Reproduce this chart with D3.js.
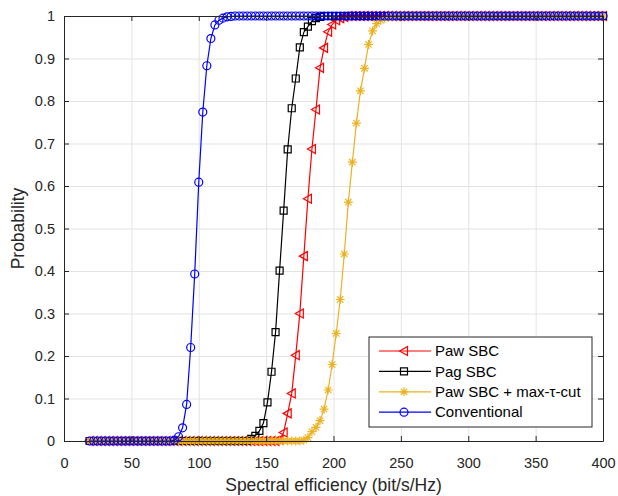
<!DOCTYPE html>
<html>
<head>
  <meta charset="utf-8">
  <script src="https://cdn.jsdelivr.net/npm/d3@7"></script>
  <style>
    body { margin: 0; background: #fff; }
    svg { font-family: "Liberation Sans", Arial, sans-serif; }
  </style>
</head>
<body>
<div id="chart"></div>
<script>
// sample grid (bit/s/Hz)
const xValues = [
  19,22,25,28,31,34,37,40,43,46,
  49,52,55,58,61,64,67,70,73,76,
  79,82,85,88,91,94,97,100,103,106,
  109,112,115,118,121,124,127,130,133,136,
  139,142,145,148,151,154,157,160,163,166,
  169,172,175,178,181,184,187,190,193,196,
  199,202,205,208,211,214,217,220,223,226,
  229,232,235,238,241,244,247,250,253,256,
  259,262,265,268,271,274,277,280,283,286,
  289,292,295,298,301,304,307,310,313,316,
  319,322,325,328,331,334,337,340,343,346,
  349,352,355,358,361,364,367,370,373,376,
  379,382,385,388,391,394,397,400
];

const pawSBC = [
  0,0,0,0,0,0,0,0,0,0,
  0,0,0,0,0,0,0,0,0,0,
  0,0,0,0,0,0,0,0,0,0,
  0,0,0,0,0,0,0,0,0,0,
  0,0,0,0,0,0,0,0.003,0.02,0.065,
  0.112,0.202,0.30,0.435,0.57,0.687,0.78,0.878,0.925,0.963,
  0.98,0.99,0.995,0.998,1,1,1,1,1,1,
  1,1,1,1,1,1,1,1,1,1,
  1,1,1,1,1,1,1,1,1,1,
  1,1,1,1,1,1,1,1,1,1,
  1,1,1,1,1,1,1,1,1,1,
  1,1,1,1,1,1,1,1,1,1,
  1,1,1,1,1,1,1,1
];

const pagSBC = [
  0,0,0,0,0,0,0,0,0,0,
  0,0,0,0,0,0,0,0,0,0,
  0,0,0,0,0,0,0,0,0,0,
  0,0,0,0,0,0,0,0,0,0,
  0.005,0.012,0.024,0.042,0.091,0.163,0.256,0.401,0.542,0.686,
  0.783,0.853,0.926,0.962,0.975,0.988,0.995,0.998,1,1,
  1,1,1,1,1,1,1,1,1,1,
  1,1,1,1,1,1,1,1,1,1,
  1,1,1,1,1,1,1,1,1,1,
  1,1,1,1,1,1,1,1,1,1,
  1,1,1,1,1,1,1,1,1,1,
  1,1,1,1,1,1,1,1,1,1,
  1,1,1,1,1,1,1,1
];

const pawSBCMaxCut = [
  0,0,0,0,0,0,0,0,0,0,
  0,0,0,0,0,0,0,0,0,0,
  0,0,0,0,0,0,0,0,0,0,
  0,0,0,0,0,0,0,0,0,0,
  0,0,0,0,0,0,0,0,0,0,
  0,0,0,0.002,0.008,0.022,0.032,0.048,0.075,0.12,
  0.18,0.253,0.333,0.44,0.562,0.656,0.748,0.824,0.877,0.933,
  0.965,0.982,0.99,0.995,0.998,0.999,1,1,1,1,
  1,1,1,1,1,1,1,1,1,1,
  1,1,1,1,1,1,1,1,1,1,
  1,1,1,1,1,1,1,1,1,1,
  1,1,1,1,1,1,1,1,1,1,
  1,1,1,1,1,1,1,1
];

const conventional = [
  0,0,0,0,0,0,0,0,0,0,
  0,0,0,0,0,0,0,0,0,0,
  0,0.002,0.01,0.031,0.086,0.22,0.393,0.609,0.774,0.883,
  0.947,0.979,0.99,0.995,0.998,0.999,1,1,1,1,
  1,1,1,1,1,1,1,1,1,1,
  1,1,1,1,1,1,1,1,1,1,
  1,1,1,1,1,1,1,1,1,1,
  1,1,1,1,1,1,1,1,1,1,
  1,1,1,1,1,1,1,1,1,1,
  1,1,1,1,1,1,1,1,1,1,
  1,1,1,1,1,1,1,1,1,1,
  1,1,1,1,1,1,1,1,1,1,
  1,1,1,1,1,1,1,1
];

const seriesNames = ['Paw SBC', 'Pag SBC', 'Paw SBC + max-\u03C4-cut', 'Conventional'];
const seriesColors = ['#ff0000', '#000000', '#edb120', '#0000ff'];
const seriesMarkers = ['triangleLeft', 'square', 'asterisk', 'circle'];
const seriesValues = [pawSBC, pagSBC, pawSBCMaxCut, conventional];

const xTicks = [0, 50, 100, 150, 200, 250, 300, 350, 400];
const yTicks = [0, 0.1, 0.2, 0.3, 0.4, 0.5, 0.6, 0.7, 0.8, 0.9, 1];
const yTickLabels = ['0', '0.1', '0.2', '0.3', '0.4', '0.5', '0.6', '0.7', '0.8', '0.9', '1'];

const W = 618, H = 496;
const pLeft = 64, pRight = 603, pTop = 16, pBottom = 441;

const x = d3.scaleLinear().domain([0, 400]).range([pLeft, pRight]);
const y = d3.scaleLinear().domain([0, 1]).range([pBottom, pTop]);

const svg = d3.select('#chart').append('svg')
  .attr('width', W)
  .attr('height', H);

svg.append('rect').attr('width', W).attr('height', H).attr('fill', '#fff');

// grid
svg.append('g')
  .attr('transform', `translate(0,${pBottom})`)
  .call(d3.axisBottom(x).tickValues(xTicks).tickSize(-(pBottom - pTop)).tickFormat(''))
  .call(g => g.select('.domain').remove())
  .selectAll('line').attr('stroke', '#e3e3e3');

svg.append('g')
  .attr('transform', `translate(${pLeft},0)`)
  .call(d3.axisLeft(y).tickValues(yTicks).tickSize(-(pRight - pLeft)).tickFormat(''))
  .call(g => g.select('.domain').remove())
  .selectAll('line').attr('stroke', '#e3e3e3');

// markers
function markerPath(type) {
  if (type === 'circle') return d3.symbol(d3.symbolCircle, 50)();
  if (type === 'square') return 'M-3.5,-3.5H3.5V3.5H-3.5Z';
  if (type === 'triangleLeft') return 'M-4.5,0L3.5,-4.5V4.5Z';
  return 'M-4.5,0H4.5M0,-4.5V4.5M-3.2,-3.2L3.2,3.2M-3.2,3.2L3.2,-3.2';
}

const line = d3.line()
  .x(d => x(d[0]))
  .y(d => y(d[1]));

const plot = svg.append('g');

seriesValues.forEach((vals, i) => {
  const pts = xValues.map((xv, j) => [xv, vals[j]]);
  const g = plot.append('g');
  g.append('path')
    .datum(pts)
    .attr('d', line)
    .attr('fill', 'none')
    .attr('stroke', seriesColors[i])
    .attr('stroke-width', 1.2);
  g.selectAll('path.mk')
    .data(pts)
    .enter()
    .append('path')
    .attr('class', 'mk')
    .attr('d', markerPath(seriesMarkers[i]))
    .attr('transform', d => `translate(${x(d[0])},${y(d[1])})`)
    .attr('fill', 'none')
    .attr('stroke', seriesColors[i])
    .attr('stroke-width', 1.2);
});

// axes
const axisColor = '#262626';
svg.append('g')
  .attr('class', 'axis')
  .attr('transform', `translate(0,${pBottom})`)
  .call(d3.axisBottom(x).tickValues(xTicks).tickSizeInner(-5).tickSizeOuter(0).tickPadding(17));
svg.append('g')
  .attr('class', 'axis')
  .attr('transform', `translate(${pLeft},0)`)
  .call(d3.axisLeft(y).tickValues(yTicks).tickSizeInner(-5).tickSizeOuter(0).tickPadding(9)
    .tickFormat((d, i) => yTickLabels[i]));
svg.append('g')
  .attr('class', 'axis')
  .attr('transform', `translate(0,${pTop})`)
  .call(d3.axisTop(x).tickValues(xTicks).tickSizeInner(-5).tickSizeOuter(0).tickFormat(''));
svg.append('g')
  .attr('class', 'axis')
  .attr('transform', `translate(${pRight},0)`)
  .call(d3.axisRight(y).tickValues(yTicks).tickSizeInner(-5).tickSizeOuter(0).tickFormat(''));

svg.selectAll('.axis .domain').attr('stroke', axisColor);
svg.selectAll('.axis .tick line').attr('stroke', axisColor);
svg.selectAll('.axis .tick text')
  .attr('fill', axisColor)
  .style('font-size', '14.5px')
  .style('font-family', '"Liberation Sans", Arial, sans-serif');

// axis labels
svg.append('text')
  .attr('x', (pLeft + pRight) / 2)
  .attr('y', 491)
  .attr('text-anchor', 'middle')
  .attr('fill', axisColor)
  .style('font-size', '17.5px')
  .text('Spectral efficiency (bit/s/Hz)');

svg.append('text')
  .attr('transform', `translate(24,${(pTop + pBottom) / 2}) rotate(-90)`)
  .attr('text-anchor', 'middle')
  .attr('fill', axisColor)
  .style('font-size', '17.5px')
  .text('Probability');

// legend
const legend = svg.append('g').attr('transform', 'translate(369,337)');
legend.append('rect')
  .attr('width', 223)
  .attr('height', 90)
  .attr('fill', '#fff')
  .attr('stroke', axisColor)
  .attr('stroke-width', 1);

seriesNames.forEach((name, i) => {
  const ly = 14 + i * 20.4;
  const row = legend.append('g').attr('transform', `translate(0,${ly})`);
  row.append('line')
    .attr('x1', 10).attr('x2', 62)
    .attr('stroke', seriesColors[i])
    .attr('stroke-width', 1.2);
  row.append('path')
    .attr('d', markerPath(seriesMarkers[i]))
    .attr('transform', 'translate(35,0)')
    .attr('fill', 'none')
    .attr('stroke', seriesColors[i])
    .attr('stroke-width', 1.2);
  row.append('text')
    .attr('x', 66)
    .attr('dy', '0.35em')
    .attr('fill', '#000')
    .style('font-size', '15px')
    .text(name);
});
</script>
</body>
</html>
